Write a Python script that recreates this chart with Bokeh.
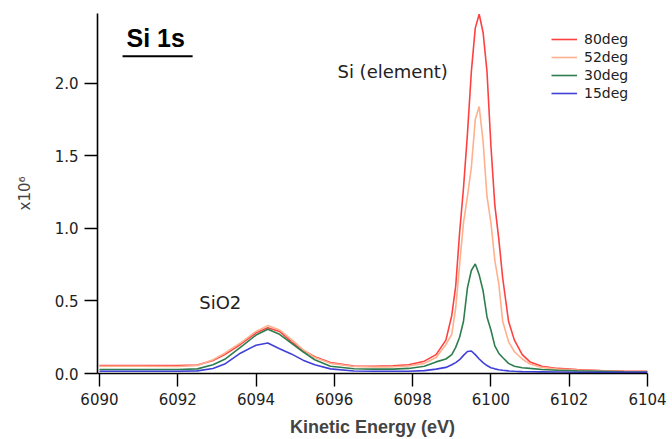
from bokeh.plotting import figure
from bokeh.models import (Range1d, FixedTicker, Label, BoxAnnotation, Legend,
                          LegendItem, NumeralTickFormatter, ColumnDataSource)
from bokeh.embed import file_html
from bokeh.resources import INLINE

# ---- data ----
energy = [6090, 6091, 6092, 6092.5, 6092.9, 6093.2, 6093.6, 6094.0, 6094.3, 6094.6,
          6094.9, 6095.2, 6095.5, 6095.9, 6096.5, 6097.0, 6097.5, 6097.9, 6098.3, 6098.6,
          6098.85, 6099.0, 6099.1, 6099.2, 6099.3, 6099.4, 6099.5, 6099.6, 6099.7, 6099.8,
          6099.9, 6100.0, 6100.1, 6100.2, 6100.3, 6100.45, 6100.6, 6100.8, 6101.0, 6101.3,
          6101.7, 6102.2, 6102.8, 6103.4, 6104.0]

deg80 = [0.055, 0.055, 0.055, 0.058, 0.09, 0.13, 0.20, 0.28, 0.315, 0.29,
         0.22, 0.16, 0.115, 0.075, 0.052, 0.05, 0.053, 0.06, 0.085, 0.13,
         0.23, 0.40, 0.60, 0.97, 1.28, 1.65, 2.08, 2.38, 2.476, 2.35,
         2.08, 1.57, 1.16, 0.93, 0.66, 0.36, 0.23, 0.13, 0.08, 0.05,
         0.035, 0.027, 0.02, 0.017, 0.015]

deg52 = [0.05, 0.05, 0.048, 0.055, 0.095, 0.14, 0.21, 0.29, 0.33, 0.30,
         0.235, 0.165, 0.11, 0.07, 0.048, 0.045, 0.046, 0.052, 0.07, 0.11,
         0.20, 0.27, 0.45, 0.75, 1.04, 1.22, 1.42, 1.75, 1.84, 1.60,
         1.22, 1.04, 0.78, 0.62, 0.36, 0.22, 0.15, 0.10, 0.065, 0.042,
         0.03, 0.024, 0.019, 0.016, 0.014]

deg30 = [0.028, 0.028, 0.028, 0.032, 0.06, 0.098, 0.18, 0.265, 0.305, 0.27,
         0.21, 0.15, 0.095, 0.05, 0.033, 0.03, 0.03, 0.035, 0.05, 0.08,
         0.10, 0.13, 0.18, 0.25, 0.36, 0.59, 0.71, 0.755, 0.68, 0.57,
         0.39, 0.30, 0.19, 0.14, 0.11, 0.07, 0.05, 0.04, 0.035, 0.028,
         0.022, 0.018, 0.015, 0.012, 0.01]

deg15 = [0.015, 0.015, 0.015, 0.018, 0.035, 0.065, 0.14, 0.195, 0.21, 0.17,
         0.135, 0.092, 0.06, 0.032, 0.017, 0.015, 0.015, 0.016, 0.02, 0.03,
         0.042, 0.06, 0.075, 0.095, 0.125, 0.152, 0.155, 0.13, 0.10, 0.075,
         0.055, 0.04, 0.032, 0.026, 0.022, 0.018, 0.015, 0.013, 0.012, 0.011,
         0.01, 0.009, 0.009, 0.008, 0.008]

series_names = ["80deg", "52deg", "30deg", "15deg"]
series_values = [deg80, deg52, deg30, deg15]
series_colors = ["#ff4040", "#ffb08c", "#2e7d4f", "#4040d8"]

x_ticks = [6090, 6092, 6094, 6096, 6098, 6100, 6102, 6104]
y_ticks = [0.0, 0.5, 1.0, 1.5, 2.0]

FONT = "DejaVu Sans"

p = figure(width=672, height=439, output_backend="svg", toolbar_location=None,
           x_range=Range1d(6089.95, 6104.0), y_range=Range1d(0, 2.481),
           min_border_left=97, min_border_right=25, min_border_top=13,
           min_border_bottom=65)
p.outline_line_color = None
p.xgrid.visible = False
p.ygrid.visible = False
p.background_fill_color = "white"
p.border_fill_color = "white"

source = ColumnDataSource(dict(energy=energy, **{n: v for n, v in zip(series_names, series_values)}))

renderers = []
for name, color in zip(series_names, series_colors):
    r = p.line("energy", name, source=source, line_color=color, line_width=1.6)
    renderers.append(r)

for ax in (p.xaxis[0], p.yaxis[0]):
    ax.axis_line_color = "black"
    ax.axis_line_width = 1.6
    ax.major_tick_line_color = "black"
    ax.major_tick_line_width = 1.4
    ax.major_tick_out = 13
    ax.major_tick_in = 0
    ax.minor_tick_line_color = None
    ax.major_label_text_font = FONT
    ax.major_label_text_font_size = "15px"
    ax.major_label_text_color = "#222222"

p.xaxis.ticker = FixedTicker(ticks=x_ticks)
p.yaxis.ticker = FixedTicker(ticks=y_ticks)
p.yaxis.formatter = NumeralTickFormatter(format="0.0")
p.xaxis.formatter = NumeralTickFormatter(format="0")
p.xaxis.major_label_standoff = 6
p.yaxis.major_label_standoff = 6

p.xaxis.axis_label = "Kinetic Energy (eV)"
p.xaxis.axis_label_text_font = "Liberation Sans"
p.xaxis.axis_label_text_font_style = "bold"
p.xaxis.axis_label_text_font_size = "18px"
p.xaxis.axis_label_standoff = 9

p.yaxis.axis_label = "x10\u2076"
p.yaxis.axis_label_text_font = FONT
p.yaxis.axis_label_text_font_style = "normal"
p.yaxis.axis_label_text_font_size = "15px"
p.yaxis.axis_label_standoff = 18

# ---- annotations ----
p.add_layout(Label(x=6090.69, y=2.31, text="Si 1s", text_font="Liberation Sans",
                   text_font_style="bold", text_font_size="25px",
                   text_baseline="alphabetic", text_color="black"))
p.add_layout(BoxAnnotation(left=6090.59, right=6092.38, bottom=2.180, top=2.193,
                           fill_color="black", fill_alpha=1.0, line_alpha=0))
p.add_layout(Label(x=6096.08, y=2.08, text="Si (element)", text_font=FONT,
                   text_font_size="18px", text_baseline="alphabetic",
                   text_color="#222222"))
p.add_layout(Label(x=6092.55, y=0.487, text="SiO2", text_font=FONT,
                   text_font_size="18px", text_baseline="alphabetic",
                   text_color="#222222"))

legend = Legend(items=[LegendItem(label=n, renderers=[r]) for n, r in zip(series_names, renderers)],
                location=(454, 272))
legend.background_fill_alpha = 0
legend.border_line_color = None
legend.padding = 0
legend.margin = 0
legend.spacing = 2
legend.glyph_width = 26
legend.glyph_height = 14
legend.label_height = 14
legend.label_standoff = 7
legend.label_text_font = FONT
legend.label_text_font_size = "14px"
legend.label_text_color = "#222222"
legend.label_text_baseline = "middle"
p.add_layout(legend)

open("out.html", "w").write(file_html(p, INLINE))
